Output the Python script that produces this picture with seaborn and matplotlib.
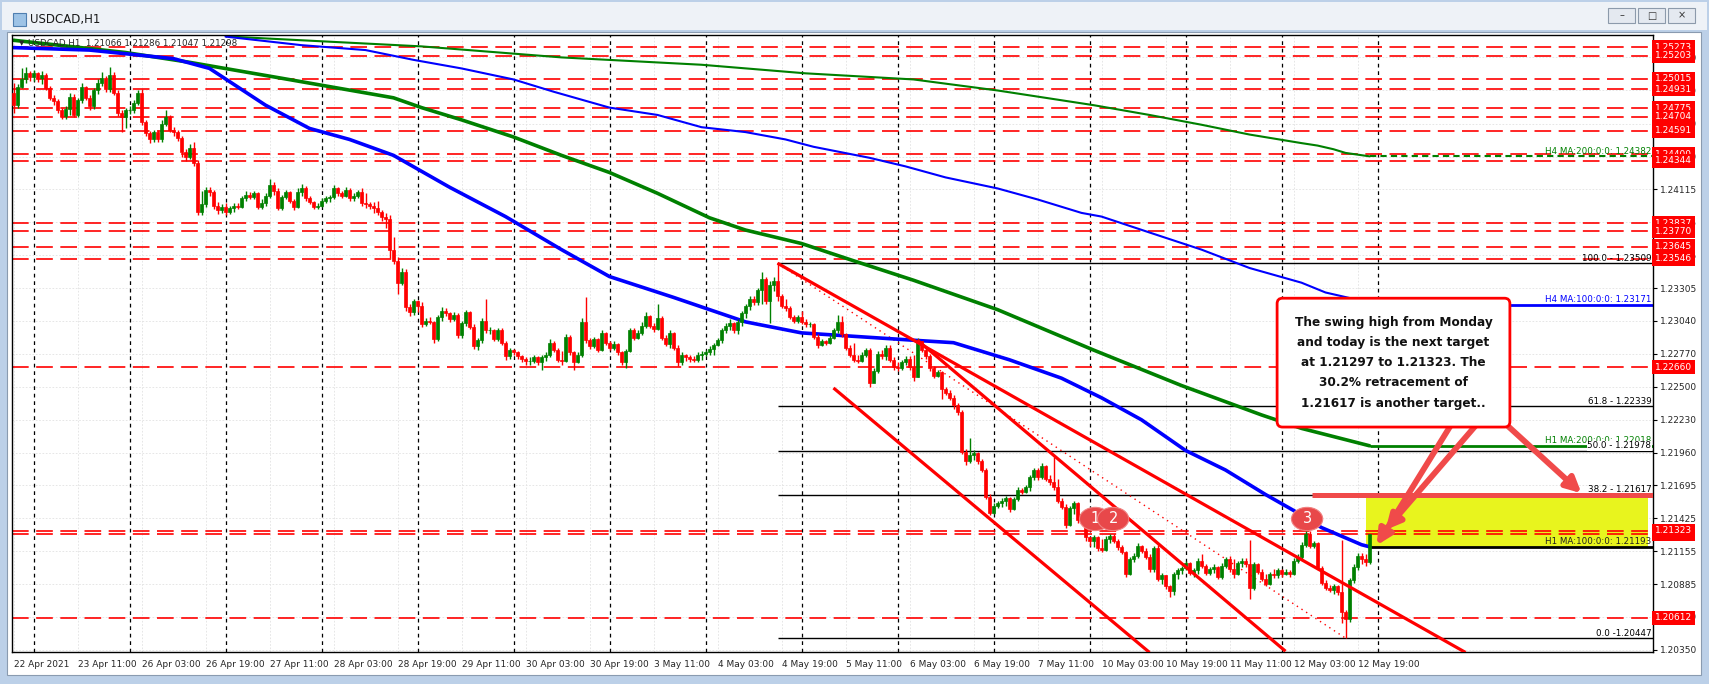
import seaborn as sns
import matplotlib.pyplot as plt
import matplotlib.patches as mpatches
from matplotlib.transforms import blended_transform_factory
import numpy as np
import pandas as pd

sns.set_style("white")
plt.rcParams['font.family'] = ['DejaVu Sans']

W, H = 1709, 684

# hourly candles, 22 Apr 19:00 .. 12 May 20:00 (bar index = hour count)
first_open = 1.2490
closes = [
    1.2480, 1.2495, 1.2501, 1.2506, 1.2503, 1.2506, 1.2502, 1.2505, 1.2494, 1.2486,
    1.2483, 1.2476, 1.2471, 1.2477, 1.2487, 1.2472, 1.2484, 1.2495, 1.2486, 1.2479,
    1.2492, 1.2498, 1.2502, 1.2493, 1.2505, 1.2490, 1.2474, 1.2470, 1.2476, 1.2476,
    1.2482, 1.2490, 1.2466, 1.2457, 1.2452, 1.2458, 1.2452, 1.2465, 1.2470, 1.2460,
    1.2458, 1.2453, 1.2442, 1.2438, 1.2445, 1.2433, 1.2393, 1.2399, 1.2411, 1.2409,
    1.2398, 1.2394, 1.2397, 1.2393, 1.2396, 1.2398, 1.2397, 1.2404, 1.2407, 1.2405,
    1.2408, 1.2397, 1.2400, 1.2406, 1.2415, 1.2410, 1.2396, 1.2405, 1.2409, 1.2402,
    1.2397, 1.2409, 1.2412, 1.2404, 1.2401, 1.2397, 1.2398, 1.2402, 1.2404, 1.2405,
    1.2412, 1.2408, 1.2406, 1.2411, 1.2404, 1.2406, 1.2409, 1.2400, 1.2399, 1.2398,
    1.2396, 1.2393, 1.2389, 1.2387, 1.2362, 1.2353, 1.2335, 1.2344, 1.2315, 1.2311,
    1.2320, 1.2316, 1.2301, 1.2304, 1.2303, 1.2289, 1.2307, 1.2312, 1.2310, 1.2305,
    1.2309, 1.2292, 1.2302, 1.2311, 1.2299, 1.2283, 1.2288, 1.2304, 1.2296, 1.2296,
    1.2289, 1.2296, 1.2286, 1.2275, 1.2280, 1.2278, 1.2275, 1.2273, 1.2271, 1.2271,
    1.2274, 1.2270, 1.2274, 1.2276, 1.2286, 1.2280, 1.2272, 1.2271, 1.2291, 1.2278,
    1.2270, 1.2276, 1.2303, 1.2288, 1.2283, 1.2289, 1.2280, 1.2294, 1.2286, 1.2282,
    1.2285, 1.2278, 1.2270, 1.2279, 1.2296, 1.2290, 1.2294, 1.2300, 1.2308, 1.2300,
    1.2297, 1.2306, 1.2290, 1.2285, 1.2294, 1.2282, 1.2270, 1.2276, 1.2274, 1.2273,
    1.2272, 1.2276, 1.2277, 1.2278, 1.2281, 1.2284, 1.2288, 1.2296, 1.2300, 1.2302,
    1.2296, 1.2303, 1.2310, 1.2316, 1.2322, 1.2319, 1.2329, 1.2338, 1.2320, 1.2333,
    1.2336, 1.2324, 1.2316, 1.2314, 1.2307, 1.2304, 1.2307, 1.2303, 1.2301, 1.2301,
    1.2291, 1.2284, 1.2287, 1.2286, 1.2290, 1.2296, 1.2303, 1.2293, 1.2282, 1.2276,
    1.2272, 1.2271, 1.2276, 1.2280, 1.2253, 1.2263, 1.2277, 1.2275, 1.2282, 1.2272,
    1.2266, 1.2265, 1.2270, 1.2273, 1.2266, 1.2258, 1.2287, 1.2280, 1.2275, 1.2265,
    1.2259, 1.2262, 1.2248, 1.2245, 1.2241, 1.2235, 1.2229, 1.2197, 1.2189, 1.2194,
    1.2196, 1.2189, 1.2182, 1.2160, 1.2147, 1.2153, 1.2155, 1.2157, 1.2159, 1.2150,
    1.2158, 1.2166, 1.2164, 1.2168, 1.2176, 1.2182, 1.2176, 1.2185, 1.2175, 1.2172,
    1.2168, 1.2157, 1.2152, 1.2137, 1.2151, 1.2155, 1.2141, 1.2146, 1.2127, 1.2124,
    1.2127, 1.2118, 1.2117, 1.2126, 1.2128, 1.2124, 1.2119, 1.2115, 1.2097, 1.2109,
    1.2112, 1.2120, 1.2116, 1.2111, 1.2101, 1.2118, 1.2093, 1.2096, 1.2087, 1.2083,
    1.2097, 1.2100, 1.2102, 1.2106, 1.2098, 1.2100, 1.2108, 1.2104, 1.2098, 1.2101,
    1.2103, 1.2095, 1.2104, 1.2109, 1.2101, 1.2097, 1.2106, 1.2108, 1.2105, 1.2086,
    1.2105, 1.2099, 1.2093, 1.2089, 1.2097, 1.2096, 1.2100, 1.2097, 1.2099, 1.2097,
    1.2108, 1.2111, 1.2121, 1.2130, 1.2120, 1.2122, 1.2102, 1.2090, 1.2086, 1.2084,
    1.2087, 1.2082, 1.2066, 1.2060, 1.2092, 1.2103, 1.2112, 1.2109, 1.2107, 1.2130,
]
highs = [
    1.2498, 1.2497, 1.2510, 1.2511, 1.2508, 1.2509, 1.2507, 1.2508, 1.2506, 1.2496,
    1.2488, 1.2485, 1.2478, 1.2479, 1.2490, 1.2489, 1.2486, 1.2498, 1.2496, 1.2488,
    1.2494, 1.2501, 1.2507, 1.2504, 1.2511, 1.2507, 1.2492, 1.2476, 1.2478, 1.2479,
    1.2484, 1.2492, 1.2493, 1.2468, 1.2459, 1.2460, 1.2460, 1.2468, 1.2476, 1.2472,
    1.2462, 1.2460, 1.2455, 1.2444, 1.2448, 1.2450, 1.2435, 1.2410, 1.2413, 1.2413,
    1.2411, 1.2401, 1.2399, 1.2400, 1.2398, 1.2400, 1.2400, 1.2406, 1.2410, 1.2409,
    1.2410, 1.2409, 1.2403, 1.2408, 1.2420, 1.2417, 1.2412, 1.2407, 1.2411, 1.2410,
    1.2403, 1.2412, 1.2416, 1.2414, 1.2406, 1.2402, 1.2400, 1.2404, 1.2406, 1.2407,
    1.2415, 1.2413, 1.2410, 1.2413, 1.2412, 1.2408, 1.2411, 1.2412, 1.2408, 1.2401,
    1.2401, 1.2402, 1.2394, 1.2392, 1.2390, 1.2372, 1.2356, 1.2347, 1.2346, 1.2318,
    1.2322, 1.2321, 1.2319, 1.2306, 1.2307, 1.2304, 1.2309, 1.2315, 1.2314, 1.2311,
    1.2311, 1.2310, 1.2304, 1.2313, 1.2312, 1.2301, 1.2290, 1.2306, 1.2322, 1.2299,
    1.2297, 1.2298, 1.2298, 1.2287, 1.2282, 1.2281, 1.2279, 1.2276, 1.2274, 1.2274,
    1.2276, 1.2275, 1.2276, 1.2278, 1.2289, 1.2287, 1.2282, 1.2279, 1.2293, 1.2292,
    1.2279, 1.2278, 1.2306, 1.2323, 1.2290, 1.2291, 1.2290, 1.2296, 1.2295, 1.2287,
    1.2287, 1.2286, 1.2279, 1.2281, 1.2298, 1.2298, 1.2296, 1.2303, 1.2311, 1.2309,
    1.2302, 1.2318, 1.2308, 1.2292, 1.2296, 1.2295, 1.2284, 1.2278, 1.2277, 1.2276,
    1.2275, 1.2278, 1.2279, 1.2280, 1.2283, 1.2286, 1.2290, 1.2298, 1.2302, 1.2305,
    1.2303, 1.2305, 1.2312, 1.2318, 1.2324, 1.2324, 1.2331, 1.2344, 1.2340, 1.2336,
    1.2340, 1.2351, 1.2326, 1.2322, 1.2316, 1.2309, 1.2309, 1.2312, 1.2305, 1.2303,
    1.2302, 1.2293, 1.2289, 1.2288, 1.2292, 1.2298, 1.2309, 1.2308, 1.2294, 1.2284,
    1.2286, 1.2276, 1.2278, 1.2282, 1.2282, 1.2265, 1.2279, 1.2280, 1.2284, 1.2284,
    1.2274, 1.2270, 1.2272, 1.2275, 1.2275, 1.2276, 1.2290, 1.2287, 1.2282, 1.2277,
    1.2267, 1.2264, 1.2263, 1.2250, 1.2247, 1.2243, 1.2237, 1.2231, 1.2199, 1.2208,
    1.2198, 1.2197, 1.2191, 1.2184, 1.2162, 1.2155, 1.2157, 1.2159, 1.2161, 1.2160,
    1.2160, 1.2168, 1.2167, 1.2170, 1.2178, 1.2184, 1.2184, 1.2188, 1.2186, 1.2178,
    1.2193, 1.2175, 1.2159, 1.2154, 1.2153, 1.2157, 1.2156, 1.2148, 1.2148, 1.2127,
    1.2129, 1.2128, 1.2126, 1.2128, 1.2130, 1.2130, 1.2126, 1.2121, 1.2116, 1.2111,
    1.2114, 1.2122, 1.2121, 1.2118, 1.2113, 1.2120, 1.2121, 1.2098, 1.2096, 1.2088,
    1.2099, 1.2102, 1.2104, 1.2108, 1.2107, 1.2102, 1.2110, 1.2113, 1.2105, 1.2103,
    1.2105, 1.2104, 1.2106, 1.2111, 1.2112, 1.2109, 1.2108, 1.2110, 1.2110, 1.2125,
    1.2107, 1.2106, 1.2101, 1.2097, 1.2099, 1.2101, 1.2102, 1.2101, 1.2101, 1.2100,
    1.2110, 1.2113, 1.2123, 1.2132, 1.2132, 1.2124, 1.2123, 1.2104, 1.2092, 1.2088,
    1.2089, 1.2088, 1.2125, 1.2068, 1.2094, 1.2105, 1.2114, 1.2114, 1.2113, 1.2130,
]
lows = [
    1.2474, 1.2478, 1.2494, 1.2498, 1.2500, 1.2500, 1.2499, 1.2497, 1.2492, 1.2484,
    1.2480, 1.2474, 1.2469, 1.2469, 1.2472, 1.2470, 1.2470, 1.2482, 1.2484, 1.2476,
    1.2477, 1.2489, 1.2496, 1.2491, 1.2491, 1.2488, 1.2471, 1.2458, 1.2461, 1.2473,
    1.2474, 1.2480, 1.2464, 1.2455, 1.2449, 1.2450, 1.2450, 1.2450, 1.2463, 1.2458,
    1.2455, 1.2451, 1.2438, 1.2434, 1.2436, 1.2430, 1.2390, 1.2390, 1.2397, 1.2406,
    1.2395, 1.2391, 1.2392, 1.2390, 1.2391, 1.2393, 1.2395, 1.2396, 1.2402, 1.2403,
    1.2403, 1.2395, 1.2395, 1.2398, 1.2404, 1.2407, 1.2394, 1.2394, 1.2403, 1.2400,
    1.2394, 1.2396, 1.2406, 1.2402, 1.2399, 1.2395, 1.2395, 1.2397, 1.2400, 1.2401,
    1.2403, 1.2406, 1.2404, 1.2405, 1.2402, 1.2402, 1.2404, 1.2398, 1.2396, 1.2395,
    1.2392, 1.2390, 1.2385, 1.2380, 1.2355, 1.2350, 1.2326, 1.2333, 1.2312, 1.2308,
    1.2309, 1.2311, 1.2299, 1.2300, 1.2301, 1.2286, 1.2287, 1.2304, 1.2308, 1.2303,
    1.2304, 1.2290, 1.2290, 1.2300, 1.2297, 1.2281, 1.2280, 1.2286, 1.2294, 1.2293,
    1.2287, 1.2287, 1.2284, 1.2272, 1.2273, 1.2276, 1.2273, 1.2270, 1.2268, 1.2268,
    1.2269, 1.2268, 1.2264, 1.2271, 1.2274, 1.2278, 1.2270, 1.2268, 1.2270, 1.2276,
    1.2264, 1.2269, 1.2274, 1.2286, 1.2281, 1.2282, 1.2278, 1.2279, 1.2284, 1.2280,
    1.2280, 1.2276, 1.2268, 1.2265, 1.2278, 1.2288, 1.2289, 1.2292, 1.2298, 1.2298,
    1.2295, 1.2296, 1.2288, 1.2283, 1.2282, 1.2280, 1.2267, 1.2268, 1.2271, 1.2270,
    1.2270, 1.2270, 1.2272, 1.2275, 1.2276, 1.2276, 1.2283, 1.2286, 1.2294, 1.2296,
    1.2294, 1.2293, 1.2300, 1.2306, 1.2313, 1.2317, 1.2317, 1.2318, 1.2318, 1.2302,
    1.2328, 1.2320, 1.2314, 1.2312, 1.2305, 1.2302, 1.2302, 1.2301, 1.2299, 1.2299,
    1.2289, 1.2282, 1.2283, 1.2284, 1.2285, 1.2289, 1.2294, 1.2291, 1.2280, 1.2274,
    1.2270, 1.2269, 1.2270, 1.2274, 1.2250, 1.2255, 1.2261, 1.2273, 1.2272, 1.2270,
    1.2264, 1.2263, 1.2264, 1.2268, 1.2264, 1.2255, 1.2258, 1.2278, 1.2273, 1.2263,
    1.2257, 1.2258, 1.2240, 1.2243, 1.2239, 1.2232, 1.2227, 1.2195, 1.2186, 1.2188,
    1.2190, 1.2187, 1.2180, 1.2158, 1.2145, 1.2146, 1.2151, 1.2152, 1.2153, 1.2148,
    1.2149, 1.2157, 1.2162, 1.2163, 1.2165, 1.2174, 1.2174, 1.2175, 1.2173, 1.2170,
    1.2166, 1.2155, 1.2150, 1.2135, 1.2136, 1.2146, 1.2139, 1.2139, 1.2124, 1.2120,
    1.2119, 1.2116, 1.2115, 1.2116, 1.2122, 1.2122, 1.2117, 1.2113, 1.2095, 1.2096,
    1.2107, 1.2110, 1.2114, 1.2109, 1.2099, 1.2099, 1.2091, 1.2089, 1.2085, 1.2078,
    1.2080, 1.2093, 1.2097, 1.2100, 1.2096, 1.2095, 1.2097, 1.2102, 1.2096, 1.2096,
    1.2098, 1.2093, 1.2093, 1.2102, 1.2099, 1.2094, 1.2096, 1.2103, 1.2103, 1.2077,
    1.2084, 1.2097, 1.2091, 1.2087, 1.2088, 1.2094, 1.2094, 1.2095, 1.2096, 1.2095,
    1.2096, 1.2106, 1.2109, 1.2119, 1.2118, 1.2118, 1.2100, 1.2088, 1.2084, 1.2082,
    1.2081, 1.2080, 1.2057, 1.2045, 1.2058, 1.2090, 1.2100, 1.2105, 1.2104, 1.2105,
]

x_labels = ['22 Apr 2021', '23 Apr 11:00', '26 Apr 03:00', '26 Apr 19:00', '27 Apr 11:00',
            '28 Apr 03:00', '28 Apr 19:00', '29 Apr 11:00', '30 Apr 03:00', '30 Apr 19:00',
            '3 May 11:00', '4 May 03:00', '4 May 19:00', '5 May 11:00', '6 May 03:00',
            '6 May 19:00', '7 May 11:00', '10 May 03:00', '10 May 19:00', '11 May 11:00',
            '12 May 03:00', '12 May 19:00']
day_starts = [5, 29, 53, 77, 101, 125, 149, 173, 197, 221, 245, 269, 293, 317, 341]

y_ticks = [1.20350, 1.20620, 1.20885, 1.21155, 1.21425, 1.21695, 1.21960, 1.22230, 1.22500,
           1.22770, 1.23040, 1.23305, 1.23575, 1.23845, 1.24115, 1.24380, 1.24650, 1.24920,
           1.25190]

red_levels = [1.21297, 1.25273, 1.25203, 1.25015, 1.24931, 1.24775, 1.24704, 1.24591,
              1.24400, 1.24344, 1.23837, 1.23770, 1.23645, 1.23546, 1.22660, 1.20612, 1.21323]
last_price = 1.21298

# moving averages (bar index, price)
h1_ma100_i = [0, 19, 40, 49, 63, 74, 84, 95, 109, 123, 137, 149, 165, 183, 197, 225, 235,
              249, 262, 272, 282, 293, 303, 313, 320, 327, 337, 339]
h1_ma100_p = [1.2527, 1.2525, 1.2518, 1.2510, 1.2480, 1.2461, 1.2452, 1.2439, 1.2413, 1.2389,
              1.2362, 1.2340, 1.2323, 1.2303, 1.2294, 1.2288, 1.2286, 1.2272, 1.2257, 1.2241,
              1.2223, 1.2198, 1.2182, 1.2162, 1.2149, 1.2135, 1.2121, 1.21193]
h1_ma200_i = [0, 28, 44, 67, 81, 95, 102, 112, 125, 137, 149, 161, 174, 183, 197, 209, 225,
              246, 270, 292, 312, 322, 339]
h1_ma200_p = [1.2533, 1.2523, 1.2515, 1.2502, 1.2494, 1.2486, 1.2478, 1.2468, 1.2454, 1.2439,
              1.2425, 1.2408, 1.2388, 1.2378, 1.2367, 1.2354, 1.2337, 1.2313, 1.2280, 1.2251,
              1.2227, 1.2216, 1.22018]
h4_ma100_i = [53, 72, 88, 100, 112, 125, 135, 149, 161, 172, 183, 193, 200, 214, 223, 233, 246,
              256, 267, 272, 284, 297, 309, 322, 328, 336, 339]
h4_ma100_p = [1.2536, 1.2529, 1.2525, 1.2517, 1.2510, 1.2501, 1.2491, 1.2478, 1.2472, 1.2462,
              1.2458, 1.2452, 1.2446, 1.2437, 1.2430, 1.2421, 1.2412, 1.2403, 1.2392, 1.2389,
              1.2376, 1.2362, 1.2347, 1.2335, 1.2327, 1.2321, 1.23171]
h4_ma200_i = [54, 102, 137, 172, 198, 225, 246, 270, 284, 297, 309, 322, 326, 330, 333, 339]
h4_ma200_p = [1.2536, 1.2528, 1.2519, 1.2513, 1.2506, 1.2501, 1.2492, 1.2480, 1.2472, 1.2464,
              1.2456, 1.2449, 1.2447, 1.2444, 1.2441, 1.24382]

fib_levels = [1.23509, 1.22339, 1.21978, 1.21617, 1.20447]
fib_names = ['100.0 - 1.23509', '61.8 - 1.22339', '50.0 - 1.21978', '38.2 - 1.21617', '0.0 -1.20447']
fib_start = 191
fib_end = 333

# hand drawn trend lines: (i0, p0, i1, p1)
trend_lines = [(191, 1.23509, 363, 1.2033),
               (226, 1.2288, 318, 1.2034),
               (205, 1.2249, 284, 1.2033)]

note = ("The swing high from Monday\nand today is the next target\nat 1.21297 to 1.21323. The\n"
        "30.2% retracement of\n1.21617 is another target..")

# ---------------------------------------------------------------- figure
fig = plt.figure(figsize=(W / 100, H / 100), dpi=100)
fig.patch.set_facecolor('#bcd0e8')


def px(x, y):
    return (x / W, 1 - y / H)


# window chrome
fig.patches.append(mpatches.Rectangle(px(2, 30), 1705 / W, 28 / H, transform=fig.transFigure,
                                      fc='#eef2f7', ec='none', zorder=-2))
fig.patches.append(mpatches.Rectangle(px(7, 675), 1694 / W, 643 / H, transform=fig.transFigure,
                                      fc='white', ec='#8a9bb0', lw=0.8, zorder=-2))
fig.text(30 / W, 1 - 20 / H, 'USDCAD,H1', fontsize=8.5, va='center', ha='left', color='#1a1a1a')
fig.patches.append(mpatches.Rectangle(px(13, 26), 13 / W, 13 / H, transform=fig.transFigure,
                                      fc='#9dc3e6', ec='#4f7fb0', lw=0.8))
for bx, glyph in zip([1608, 1638, 1668], ['–', '□', '×']):
    fig.patches.append(mpatches.Rectangle(px(bx, 23), 27 / W, 15 / H, transform=fig.transFigure,
                                          fc='#e4e9f0', ec='#8c9aab', lw=0.8))
    fig.text((bx + 13.5) / W, 1 - 15.5 / H, glyph, fontsize=7, ha='center', va='center',
             color='#333333')

ax = fig.add_axes([12 / W, 1 - 652 / H, 1641 / W, 617 / H])
ax.set_zorder(2)
ax.set_facecolor('white')
x_lo, x_hi = -0.375, 409.875
y_lo, y_hi = 1.203336, 1.25373

n = len(closes)
idx = np.arange(n)
opens = np.array([first_open] + closes[:-1])
c = np.array(closes)
up = c >= opens
colors = np.where(up, '#008000', '#ff0000')

# grid + period separators
ax.set_xticks(np.arange(0, 16 * len(x_labels), 16))
ax.set_yticks(y_ticks)
ax.grid(True, color='#e2e2e2', linestyle=(0, (2, 2)), linewidth=0.6)
for d in day_starts:
    ax.axvline(d, color='black', linestyle=(0, (3, 3)), linewidth=0.9, zorder=1)

# support / resistance lines
for lv in red_levels:
    ax.axhline(lv, color='#ff0000', linestyle=(0, (10, 4.5)), linewidth=1.2, zorder=1.5)

# fibonacci
for lv in fib_levels:
    ax.hlines(lv, fib_start, x_hi, color='black', linewidth=1.0, zorder=1.6)
ax.plot([fib_start, fib_end], [fib_levels[0], fib_levels[-1]], color='#ff0000',
        linestyle=(0, (1, 3)), linewidth=1.0, zorder=1.7)

# target zone
ax.add_patch(mpatches.Rectangle((338, 1.21193), 70.5, 1.21617 - 1.21193, fc='#e8f41e',
                                ec='none', zorder=1.4))

# moving averages (seaborn)
ma_sets = [(h4_ma200_i, h4_ma200_p, '#008000', 1.5),
           (h4_ma100_i, h4_ma100_p, '#0000ff', 1.5),
           (h1_ma200_i, h1_ma200_p, '#008000', 2.6),
           (h1_ma100_i, h1_ma100_p, '#0000ff', 2.6)]
for xs, ys, col, lw in ma_sets:
    df = pd.DataFrame({'bar': xs, 'price': ys})
    sns.lineplot(data=df, x='bar', y='price', ax=ax, color=col, linewidth=lw,
                 estimator=None, sort=False, legend=False, zorder=2)

# line extensions to the right edge
ax.hlines(h4_ma200_p[-1], n - 1, x_hi, color='#008000', linewidth=1.5, linestyles=(0, (3, 2)), zorder=2)
ax.hlines(h4_ma100_p[-1], n - 1, x_hi, color='#0000ff', linewidth=2.0, zorder=2)
ax.hlines(h1_ma200_p[-1], n - 1, x_hi, color='#008000', linewidth=2.0, zorder=2)
ax.hlines(h1_ma100_p[-1], n - 1, x_hi, color='black', linewidth=2.0, zorder=2)

# candles
ax.vlines(idx, lows, highs, color=colors, linewidth=1.0, zorder=3)
ax.bar(idx, np.abs(c - opens), bottom=np.minimum(c, opens), width=0.62, color=colors,
       edgecolor=colors, linewidth=0.5, zorder=3.1)

# trend lines
for i0, p0, i1, p1 in trend_lines:
    ax.plot([i0, i1], [p0, p1], color='#ff0000', linewidth=2.3, zorder=3.5,
            solid_capstyle='butt')

# thick target line at 38.2
ax.hlines(fib_levels[3], 324.6, x_hi, color='#f04a4a', linewidth=3.6, zorder=3.6)

# numbered markers (each later one sits on top of the previous)
for k, (num, cx) in enumerate([('1', 270.4), ('2', 274.9), ('3', 323.4)]):
    ax.add_patch(mpatches.Ellipse((cx, 1.2142), 7.8, 0.0019, fc='#e8484a', ec='#f08080',
                                  lw=0.8, zorder=4 + 0.1 * k))
    ax.text(cx, 1.2142, num, color='white', fontsize=10.5, ha='center', va='center',
            zorder=4.05 + 0.1 * k)

# callout + arrows
for (sx, sy), (tx, ty) in [((359.6, 1.2220), (340.8, 1.21205)),
                           ((366.0, 1.2220), (343.0, 1.21330)),
                           ((372.9, 1.2220), (392.0, 1.21630))]:
    ax.annotate('', xy=(tx, ty), xytext=(sx, sy),
                arrowprops=dict(arrowstyle='-|>,head_length=0.9,head_width=0.45', lw=4.2,
                                color='#f04a4a', shrinkA=0, shrinkB=0), zorder=4.5)
ax.text(345.0, 1.22697, note, fontsize=8.7, fontweight='bold', ha='center', va='center',
        linespacing=1.72, color='#111111', zorder=5,
        bbox=dict(boxstyle='round,pad=1.45,rounding_size=0.45', fc='white', ec='#ff0000', lw=2.0))

# labels on the right edge of the plot
tr = blended_transform_factory(ax.transAxes, ax.transData)
ma_labels = [('H4 MA:200:0:0: 1.24382', h4_ma200_p[-1], '#008000'),
             ('H4 MA:100:0:0: 1.23171', h4_ma100_p[-1], '#0000ff'),
             ('H1 MA:200:0:0: 1.22018', h1_ma200_p[-1], '#008000'),
             ('H1 MA:100:0:0: 1.21193', h1_ma100_p[-1], '#202020')]
for txt, lv, col in ma_labels:
    ax.text(0.999, lv + 0.00004, txt, transform=tr, fontsize=6.3, color=col, ha='right',
            va='bottom', zorder=6)
for txt, lv in zip(fib_names, fib_levels):
    ax.text(0.999, lv + 0.00004, txt, transform=tr, fontsize=6.3, color='black', ha='right',
            va='bottom', zorder=6, bbox=dict(fc='white', ec='none', pad=0.3) if lv == 1.21978 else None)

ax.text(0.0045, 0.987, '▼', transform=ax.transAxes, fontsize=5, va='center', ha='left', zorder=6)
ax.text(0.0098, 0.987, 'USDCAD,H1  1.21066 1.21286 1.21047 1.21298', transform=ax.transAxes,
        fontsize=6.3, va='center', ha='left', zorder=6)

# price tags on the axis
ax.text(1.0012, last_price, f'{last_price:.5f}', transform=tr, fontsize=6.5, color='white',
        ha='left', va='center', zorder=7, clip_on=False,
        bbox=dict(boxstyle='square,pad=0.3', fc='black', ec='none'))
for lv in red_levels:
    ax.text(1.0012, lv, f'{lv:.5f}', transform=tr, fontsize=6.5, color='white', ha='left',
            va='center', zorder=7, clip_on=False,
            bbox=dict(boxstyle='square,pad=0.3', fc='#ff0000', ec='none'))

# axes cosmetics
ax.set_xlim(x_lo, x_hi)
ax.set_ylim(y_lo, y_hi)
ax.yaxis.tick_right()
ax.set_yticklabels([f'{v:.5f}' for v in y_ticks])
ax.set_xticklabels(x_labels, ha='left')
ax.tick_params(axis='both', labelsize=6.5, length=3, width=0.8, color='black', pad=2,
               direction='out')
ax.tick_params(axis='x', pad=3)
ax.set_xlabel('')
ax.set_ylabel('')
for s in ax.spines.values():
    s.set_color('black')
    s.set_linewidth(1.0)

fig.savefig('out.png', dpi=100)
